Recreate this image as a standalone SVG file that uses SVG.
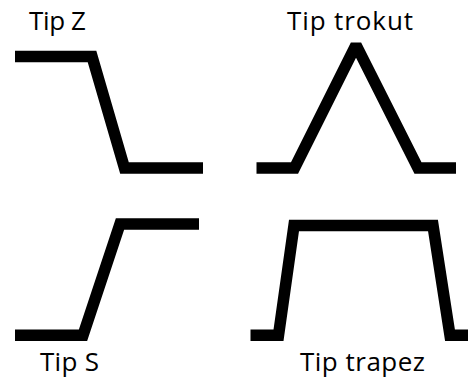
<svg xmlns="http://www.w3.org/2000/svg" width="468" height="378" viewBox="0 0 468 378">
<style>
.curve{fill:none;stroke:#000;stroke-width:11.5;stroke-linejoin:miter;stroke-miterlimit:2;stroke-linecap:butt}
.lbl{font-family:"Open Sans","Liberation Sans",Arial,sans-serif;font-size:26px;fill:#000}
</style>
<rect width="468" height="378" fill="#fff"/>
<g id="tipZ">
<polyline class="curve" points="15,56.5 92,56.5 124.5,168 203,168"/>
<text class="lbl" x="29" y="30" textLength="57" lengthAdjust="spacing">Tip Z</text>
</g>
<g id="tipTrokut">
<polyline class="curve" points="256.5,168 294.5,168 356,45 418,168 456,168"/>
<text class="lbl" x="287" y="30" textLength="126" lengthAdjust="spacing">Tip trokut</text>
</g>
<g id="tipS">
<polyline class="curve" points="15,335.3 83,335.3 120,224 199,224"/>
<text class="lbl" x="40" y="370.5" textLength="59" lengthAdjust="spacing">Tip S</text>
</g>
<g id="tipTrapez">
<polyline class="curve" points="250.5,335.3 278.5,335.3 294,225.5 433,225.5 450,335.3 468,335.3"/>
<text class="lbl" x="300" y="370.5" textLength="125" lengthAdjust="spacing">Tip trapez</text>
</g>
<g id="connectors"></g>
</svg>
